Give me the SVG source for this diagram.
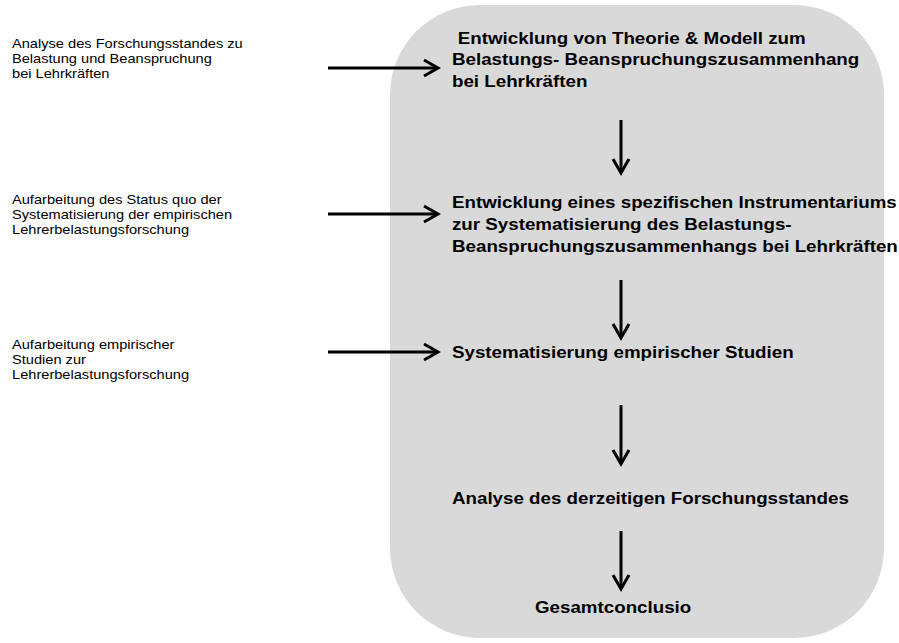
<svg xmlns="http://www.w3.org/2000/svg" width="899" height="643" viewBox="0 0 899 643">
<style>
.b{font-family:"Liberation Sans",Arial,sans-serif;font-weight:bold;font-size:16px;fill:#000}
.r{font-family:"Liberation Sans",Arial,sans-serif;font-size:12.5px;fill:#000}
.c{stroke:#000;stroke-width:3;fill:none}
.h{stroke:#000;stroke-width:3;fill:none;stroke-linecap:butt;stroke-linejoin:miter}
</style>
<rect x="0" y="0" width="899" height="643" fill="#fff"/>
<g id="bg"><rect x="390" y="5" width="494" height="633" rx="90" ry="90" fill="#d9d9d9"/></g>
<g id="n1" transform="translate(452 0) scale(1.172 1)"><text class="b" x="5" y="44">Entwicklung von Theorie &amp; Modell zum</text><text class="b" x="0" y="65.5">Belastungs- Beanspruchungszusammenhang</text><text class="b" x="0" y="87">bei Lehrkräften</text></g>
<g id="n2" transform="translate(452 0) scale(1.172 1)"><text class="b" x="0" y="208">Entwicklung eines spezifischen Instrumentariums</text><text class="b" x="0" y="230">zur Systematisierung des Belastungs-</text><text class="b" x="0" y="252">Beanspruchungszusammenhangs bei Lehrkräften</text></g>
<g id="n3" transform="translate(452 0) scale(1.172 1)"><text class="b" x="0" y="358">Systematisierung empirischer Studien</text></g>
<g id="n4" transform="translate(452 0) scale(1.172 1)"><text class="b" x="0" y="504">Analyse des derzeitigen Forschungsstandes</text></g>
<g id="n5" transform="translate(535 0) scale(1.172 1)"><text class="b" x="0" y="613">Gesamtconclusio</text></g>
<g id="l1" transform="translate(12 0) scale(1.17 1)"><text class="r" x="0" y="48">Analyse des Forschungsstandes zu</text><text class="r" x="0" y="63">Belastung und Beanspruchung</text><text class="r" x="0" y="78">bei Lehrkräften</text></g>
<g id="l2" transform="translate(12 0) scale(1.17 1)"><text class="r" x="0" y="204">Aufarbeitung des Status quo der</text><text class="r" x="0" y="219">Systematisierung der empirischen</text><text class="r" x="0" y="234">Lehrerbelastungsforschung</text></g>
<g id="l3" transform="translate(12 0) scale(1.17 1)"><text class="r" x="0" y="349">Aufarbeitung empirischer</text><text class="r" x="0" y="364">Studien zur</text><text class="r" x="0" y="379">Lehrerbelastungsforschung</text></g>
<g id="connectors">
<path class="c" d="M328 68H438"/><path class="h" d="M424 60L438 68L424 76"/>
<path class="c" d="M328 214H438"/><path class="h" d="M424 206L438 214L424 222"/>
<path class="c" d="M328 352H438"/><path class="h" d="M424 344L438 352L424 360"/>
<path class="c" d="M621 120V173"/><path class="h" d="M613 159L621 173L629 159"/>
<path class="c" d="M621 280V338"/><path class="h" d="M613 324L621 338L629 324"/>
<path class="c" d="M621 405V464"/><path class="h" d="M613 450L621 464L629 450"/>
<path class="c" d="M621 531V589"/><path class="h" d="M613 575L621 589L629 575"/>
</g>
</svg>
